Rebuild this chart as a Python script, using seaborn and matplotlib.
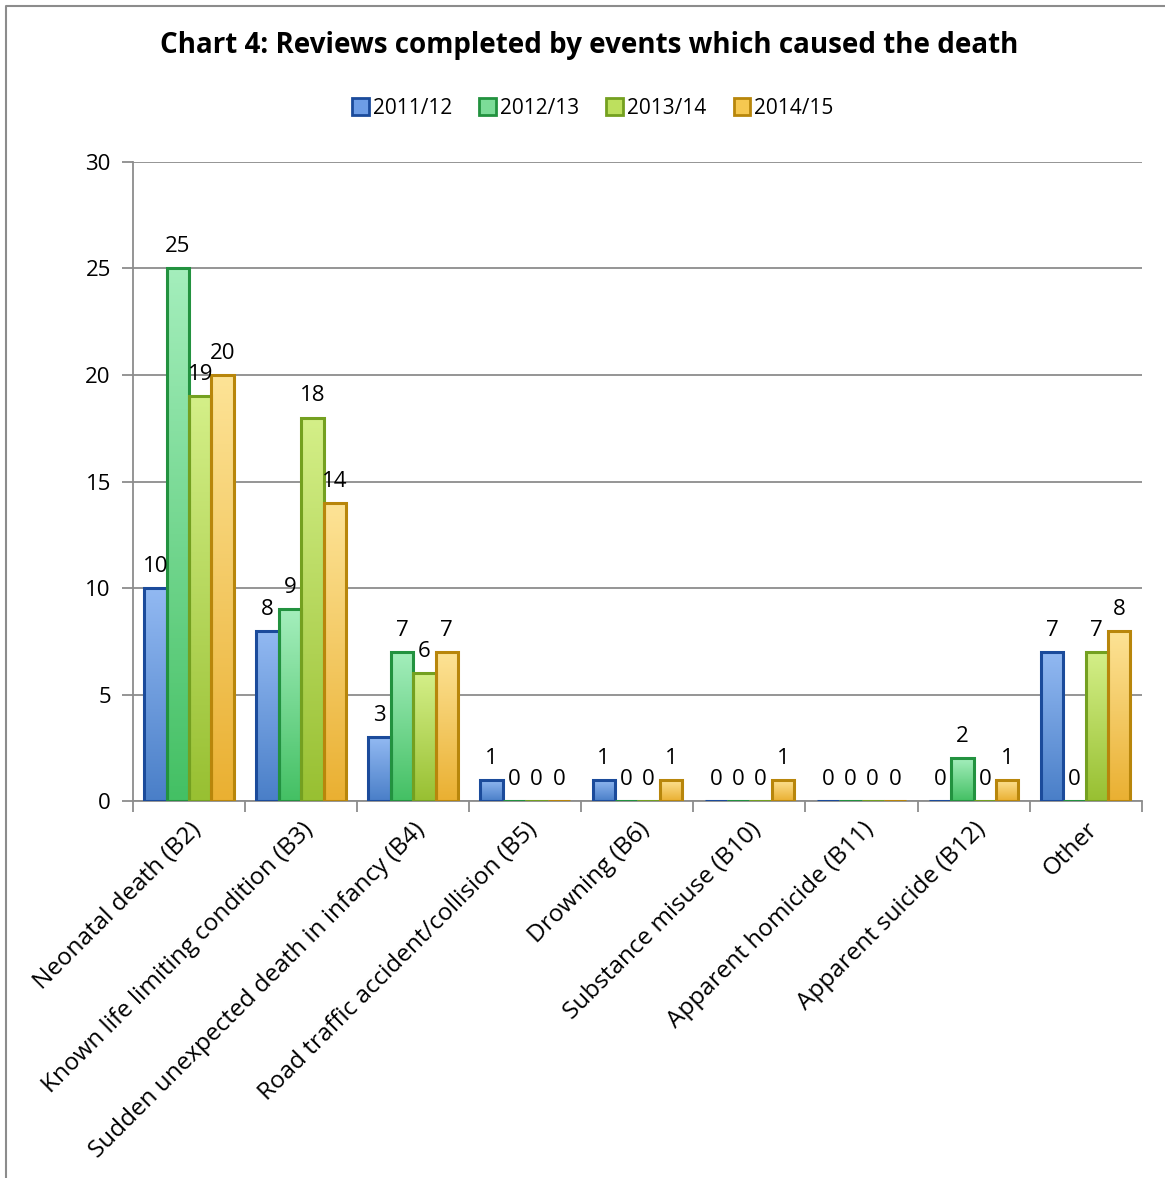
import numpy as np
import pandas as pd
import matplotlib.pyplot as plt
import seaborn as sns
from matplotlib.lines import Line2D
from matplotlib.colors import LinearSegmentedColormap

# Datos del gráfico
categories = ['Neonatal death (B2)', 'Known life limiting condition (B3)',
              'Sudden unexpected death in infancy (B4)',
              'Road traffic accident/collision (B5)', 'Drowning (B6)',
              'Substance misuse (B10)', 'Apparent homicide (B11)',
              'Apparent suicide (B12)', 'Other']
years = ['2011/12', '2012/13', '2013/14', '2014/15']
v_2011 = [10, 8, 3, 1, 1, 0, 0, 0, 7]
v_2012 = [25, 9, 7, 0, 0, 0, 0, 2, 0]
v_2013 = [19, 18, 6, 0, 0, 0, 0, 0, 7]
v_2014 = [20, 14, 7, 0, 1, 1, 0, 1, 8]

rows = []
for year, vals in zip(years, [v_2011, v_2012, v_2013, v_2014]):
    for cat, v in zip(categories, vals):
        rows.append({'Event': cat, 'Year': year, 'Reviews': v})
df = pd.DataFrame(rows)

fills = ['#6d9de6', '#7cdc98', '#bde05e', '#f6c850']
tops = ['#92b9f2', '#a4eebc', '#d4ef88', '#fde396']
bottoms = ['#4a7fc8', '#44c064', '#98c032', '#eab032']
edges = ['#1b4b9b', '#22923f', '#74a020', '#b8860b']

sns.set_style('white')
plt.rcParams['font.family'] = ['Open Sans', 'DejaVu Sans']
plt.rcParams['text.color'] = 'black'
plt.rcParams['xtick.labelcolor'] = 'black'
plt.rcParams['ytick.labelcolor'] = 'black'

fig = plt.figure(figsize=(11.65, 11.78), dpi=100)
ax = fig.add_axes([0.1142, 0.320, 0.8658, 0.5425])

sns.barplot(data=df, x='Event', y='Reviews', hue='Year', hue_order=years,
            palette=fills, saturation=1, width=0.8, ax=ax, legend=True)

ax.set_ylim(0, 30)
ax.set_xlim(-0.5, len(categories) - 0.5)

# Degradado vertical en cada barra
grad = np.linspace(1, 0, 100).reshape(-1, 1)
for cont, ec, top, bot in zip(ax.containers, edges, tops, bottoms):
    cmap = LinearSegmentedColormap.from_list('g', [bot, top])
    for p in cont:
        x0, w, h = p.get_x(), p.get_width(), p.get_height()
        if h > 0:
            ax.imshow(grad, extent=[x0, x0 + w, 0, h], cmap=cmap, aspect='auto',
                      origin='upper', zorder=2.6, interpolation='bicubic')
            p.set_facecolor('none')
        p.set_edgecolor(ec)
        p.set_linewidth(2.2)
        p.set_zorder(3)
    ax.bar_label(cont, fmt='%d', padding=8, fontsize=16, color='black')

ax.set_ylim(0, 30)
ax.set_xlim(-0.5, len(categories) - 0.5)
ax.set_yticks(range(0, 31, 5))
ax.yaxis.grid(True, color='#8c8c8c', linewidth=1.3)
ax.set_axisbelow(True)
ax.tick_params(axis='y', labelsize=16, length=8, color='#8c8c8c', width=1.3, pad=8, left=True)
ax.set_xticks(range(len(categories)))
ax.set_xticklabels(categories, rotation=45, ha='right', rotation_mode='anchor', fontsize=17.5)
ax.tick_params(axis='x', which='major', length=0, pad=12)
ax.set_xticks([i - 0.5 for i in range(len(categories) + 1)], minor=True)
ax.tick_params(axis='x', which='minor', length=8, color='#8c8c8c', width=1.3, bottom=True)
ax.set_xlabel('')
ax.set_ylabel('')
for s in ['top', 'right']:
    ax.spines[s].set_visible(False)
for s in ['left', 'bottom']:
    ax.spines[s].set_color('#8c8c8c')
    ax.spines[s].set_linewidth(1.3)

# Leyenda
handles, labels = ax.get_legend_handles_labels()
for h, ec, fc in zip(handles, edges, fills):
    h.set_facecolor(fc)
    h.set_edgecolor(ec)
    h.set_linewidth(2)
ax.legend(handles, labels, loc='center', bbox_to_anchor=(0.509, 0.9083),
          bbox_transform=fig.transFigure, ncol=4, frameon=False, fontsize=15,
          handlelength=0.8, handleheight=0.9, handletextpad=0.2, columnspacing=1.3)

fig.text(0.506, 0.961, 'Chart 4: Reviews completed by events which caused the death',
         ha='center', va='center', fontsize=20, fontweight='bold', color='black')

# Borde del gráfico
fig.add_artist(Line2D([0.0052, 0.0052, 1.0], [0.0, 0.9949, 0.9949],
                      transform=fig.transFigure, color='#8c8c8c', linewidth=1.5))

plt.savefig('out.png', dpi=100)
